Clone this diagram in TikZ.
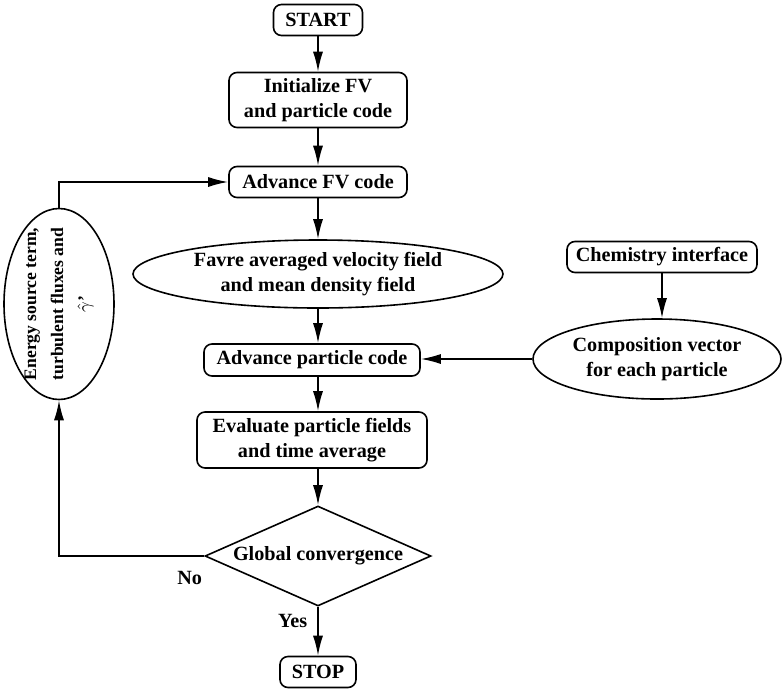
\documentclass[tikz,border=0pt]{standalone}
\usepackage{fontspec}
\setmainfont{Liberation Serif}
\usetikzlibrary{shapes.geometric,arrows.meta}

\begin{document}
\begin{tikzpicture}[x=0.5pt,y=-0.5pt,line width=0.8pt,>={Latex[length=10pt,width=5pt]}]
\tikzstyle{every node}+=[font=\fontsize{10.1}{12.3}\selectfont\bfseries, align=center]
\tikzstyle{block}=[draw, rounded corners=4pt, inner sep=0pt]
\tikzstyle{oval}=[draw, ellipse, inner sep=-10pt]
\useasboundingbox (0,0) rectangle (782,692);
\node[block, minimum width=44.5pt, minimum height=15.5pt] (start) at (318,20) {START};
\node[block, minimum width=89pt, minimum height=27.5pt] (init) at (318,100) {Initialize FV\\and particle code};
\node[block, minimum width=89pt, minimum height=15.5pt] (advfv) at (318,182) {Advance FV code};
\node[oval, minimum width=185pt, minimum height=34pt] (favre) at (318,274) {Favre averaged velocity field\\and mean density field};
\node[block, minimum width=108pt, minimum height=16pt] (advpart) at (312,360) {Advance particle code};
\node[block, minimum width=115pt, minimum height=28pt] (eval) at (312,440) {Evaluate particle fields\\and time average};
\node[draw, diamond, shape aspect=2.3, inner sep=-2pt, minimum width=113pt, minimum height=50pt] (conv) at (318,556) {Global convergence};
\node[block, minimum width=38pt, minimum height=15.5pt] (stop) at (318,672) {STOP};
\node[block, minimum width=95pt, minimum height=15.5pt] (chem) at (662,257) {Chemistry interface};
\node[oval, minimum width=124pt, minimum height=40pt] (comp) at (657,359) {Composition vector\\for each particle};
\node[oval, rotate=90, minimum width=95.5pt, minimum height=55pt, font=\fontsize{8.8}{13.5}\selectfont\bfseries] (energy) at (59,304) {Energy source term,\\turbulent fluxes and\\$\hat{\gamma}$'};
\draw[->] (start) -- (init);
\draw[->] (init) -- (advfv);
\draw[->] (advfv) -- (favre);
\draw[->] (favre) -- (favre |- advpart.north);
\draw[->] (favre |- advpart.south) -- (favre |- eval.north);
\draw[->] (favre |- eval.south) -- (conv);
\draw[->] (conv) -- node[left, pos=0.3, inner sep=5pt] {Yes} (stop);
\draw[->] (chem.south) -- (chem.south |- comp.north);
\draw[->] (comp) -- (comp -| advpart.east);
\draw[->] (conv.west) -| node[below, pos=0.05, inner sep=7pt] {No} (energy.west);
\draw[->] (energy.east) |- (advfv.west);
\end{tikzpicture}
\end{document}
